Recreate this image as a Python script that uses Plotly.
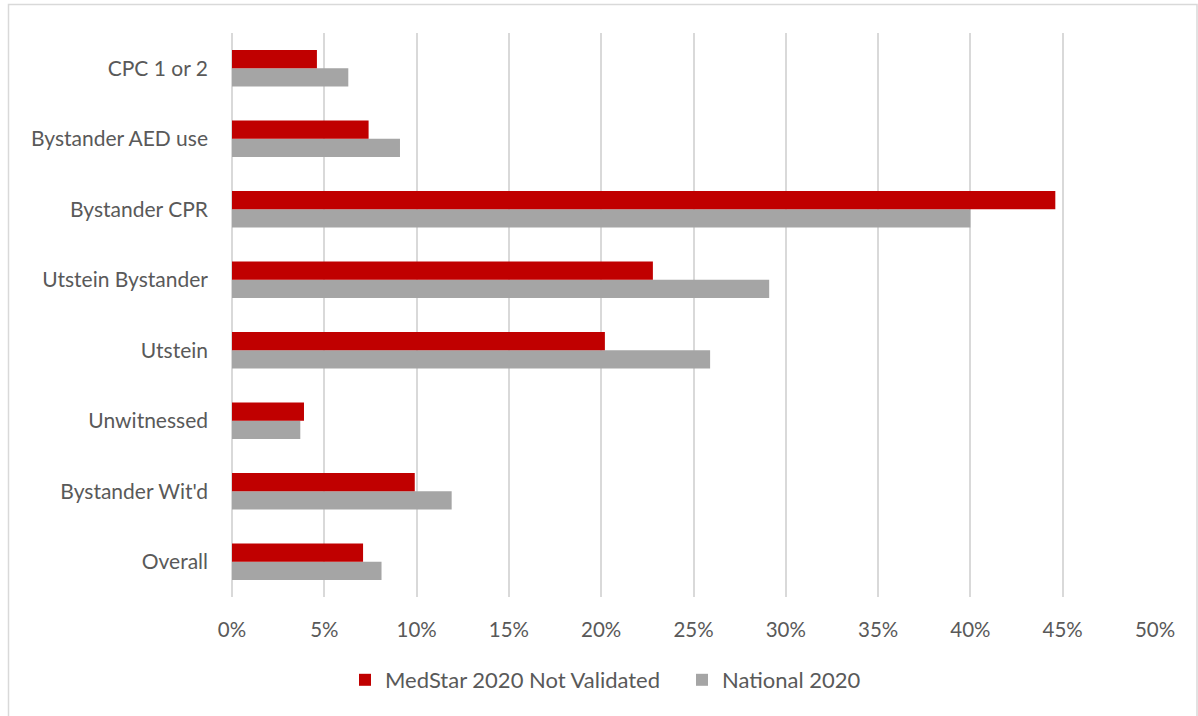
import plotly.graph_objects as go

# Categories listed bottom-to-top (Plotly draws the first category at the bottom)
categories = [
    "Overall",
    "Bystander Wit'd",
    "Unwitnessed",
    "Utstein",
    "Utstein Bystander",
    "Bystander CPR",
    "Bystander AED use",
    "CPC 1 or 2",
]
medstar_2020 = [0.071, 0.099, 0.039, 0.202, 0.228, 0.446, 0.074, 0.046]
national_2020 = [0.081, 0.119, 0.037, 0.259, 0.291, 0.400, 0.091, 0.063]

x_ticks = [0, 0.05, 0.10, 0.15, 0.20, 0.25, 0.30, 0.35, 0.40, 0.45, 0.50]

TEXT = "#595959"
GRID = "#d9d9d9"
FONT = "Lato"

W, H = 1198, 716
ML, MR, MT, MB = 232, 43, 33, 119
PW, PH = W - ML - MR, H - MT - MB


def px_to_paper_x(px):
    return (px - ML) / PW


def px_to_paper_y(py):
    return 1 - (py - MT) / PH


fig = go.Figure()
# National first so it sits below MedStar inside each group
fig.add_trace(go.Bar(
    y=categories, x=national_2020, orientation="h",
    name="National 2020", marker=dict(color="#a5a5a5", line=dict(width=0)),
))
fig.add_trace(go.Bar(
    y=categories, x=medstar_2020, orientation="h",
    name="MedStar 2020 Not Validated", marker=dict(color="#c00000", line=dict(width=0)),
))

fig.update_layout(
    width=W, height=H,
    margin=dict(l=ML, r=MR, t=MT, b=MB, pad=0),
    paper_bgcolor="white", plot_bgcolor="white",
    barmode="group", bargap=0.48, bargroupgap=0,
    font=dict(family=FONT, size=20, color=TEXT),
    showlegend=True,
    legend=dict(
        orientation="h", traceorder="reversed",
        x=px_to_paper_x(345), y=px_to_paper_y(680),
        xanchor="left", yanchor="middle",
        font=dict(family=FONT, size=22, color=TEXT),
        itemwidth=30, entrywidth=292, entrywidthmode="pixels",
        bgcolor="rgba(0,0,0,0)",
    ),
    xaxis=dict(
        range=[0, 0.5], tickvals=x_ticks, tickformat=".0%",
        showgrid=True, gridcolor=GRID, gridwidth=1.5,
        zeroline=True, zerolinecolor=GRID, zerolinewidth=1.5,
        showline=False, ticks="", ticklabelstandoff=18,
        tickfont=dict(family=FONT, size=20.5, color=TEXT),
        fixedrange=True,
    ),
    yaxis=dict(
        type="category", categoryorder="array", categoryarray=categories,
        showgrid=False, zeroline=False, showline=False, ticks="",
        ticklabelstandoff=23,
        tickfont=dict(family=FONT, size=21, color=TEXT),
        fixedrange=True,
    ),
    shapes=[dict(
        type="rect", xref="paper", yref="paper",
        x0=px_to_paper_x(8.5), x1=px_to_paper_x(1197),
        y0=px_to_paper_y(722), y1=px_to_paper_y(4.5),
        line=dict(color=GRID, width=1.5), fillcolor="rgba(0,0,0,0)",
        layer="below",
    )],
)

fig.write_html("out.html")
